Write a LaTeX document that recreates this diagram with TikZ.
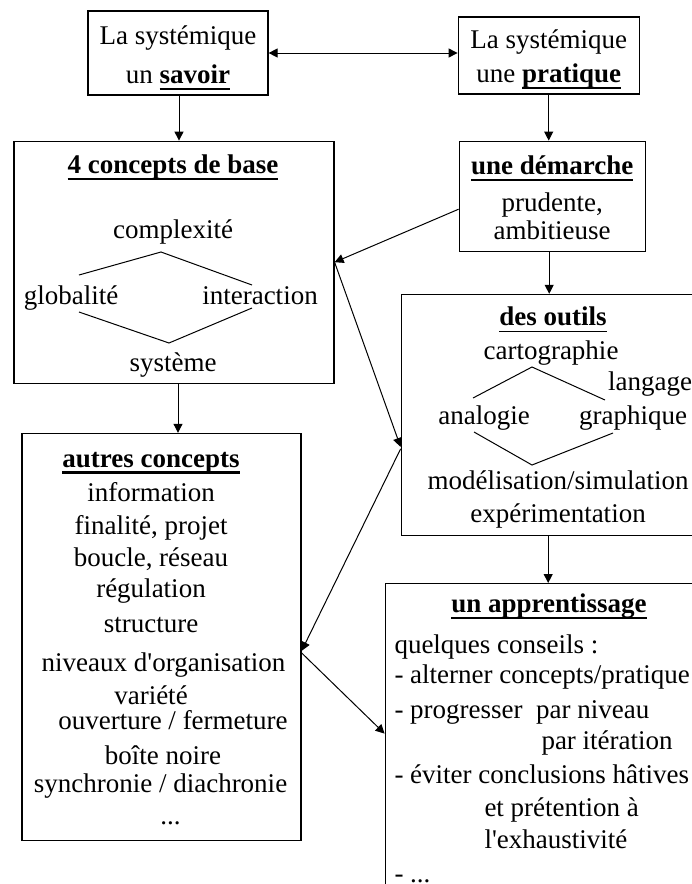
\documentclass[tikz,border=0pt]{standalone}
\usepackage{fontspec}
\setmainfont{Liberation Serif}
\usepackage{tikz}
\usetikzlibrary{positioning,arrows.meta}
\newcommand{\headline}[2][2.5pt]{\setbox0\hbox{\bfseries #2}\rlap{\rule[-6.5pt]{\wd0}{#1}}\box0}
\tikzstyle{block} = [draw, line width=1.2pt, rectangle, align=center, inner sep=0pt]
\tikzstyle{word} = [inner sep=0pt, text height=19pt, text depth=6pt]

\begin{document}
\begin{tikzpicture}[x=1pt, y=-1pt, line width=1pt, >={Triangle[length=9pt,width=9pt]},
		every node/.style={font=\fontsize{27}{33}\selectfont}]
		\useasboundingbox (0,0) rectangle (692,884);
		\clip (0,0) rectangle (692,884);

		\node [block, minimum width=180pt, minimum height=84pt] (savoir) at (178,53)
			{\rule{0pt}{29pt}La systémique\\[6pt]un \headline{savoir}};
		\node [block, minimum width=181pt, minimum height=77pt, right=189pt of savoir, yshift=-2.5pt] (pratique)
			{\rule{0pt}{27pt}La systémique\\[1pt]une \headline{pratique}};
		\node [block, minimum width=320pt, minimum height=242pt, below=45pt of savoir, xshift=-4pt] (base) {};
		\node [block, minimum width=186pt, minimum height=110pt, below=46pt of pratique, xshift=3.5pt] (demarche)
			{\rule{0pt}{22pt}\headline{une démarche}\\[4pt]prudente,\\[-5pt]ambitieuse};
		\node [block, minimum width=316pt, minimum height=241pt, below=42pt of demarche, xshift=7pt] (outils) {};
		\node [block, minimum width=279pt, minimum height=407pt, below=49pt of base, xshift=-12.5pt] (concepts) {};
		\node [block, minimum width=332pt, minimum height=330pt, below=47pt of outils, xshift=-8pt] (apprentissage) {};

		% 4 concepts de base
		\node [word] (baseTitle) at (173,167) {\headline{4 concepts de base}};
		\node [word] (complex) at (173,232) {complexité};
		\node [word] (glob) at (71,298) {globalité};
		\node [word] (inter) at (260,298) {interaction};
		\node [word] (systeme) at (173,365) {système};
		\draw ([shift={(8,-23)}]glob.center) -- ([shift={(-12,20)}]complex.center) -- ([shift={(-8,-13)}]inter.center);
		\draw ([shift={(8,14)}]glob.center) -- ([shift={(-4,-22)}]systeme.center) -- ([shift={(-8,10)}]inter.center);

		% des outils
		\node [word] (outilsTitle) at (553,319) {\headline[1pt]{des outils}};
		\node [word] (carto) at (551,353) {cartographie};
		\node [word] (langage) at (650,384) {langage};
		\node [word] (analog) at (484,418) {analogie};
		\node [word] (graph) at (633,418) {graphique};
		\node [word] (modsim) at (558,483) {modélisation/simulation};
		\node [word] (experim) at (558,516) {expérimentation};
		\draw ([shift={(-11,-20)}]analog.center) -- ([shift={(-19,14)}]carto.center) -- ([shift={(-45,16)}]langage.center);
		\draw ([shift={(-10,14)}]analog.center) -- ([shift={(-26,-18)}]modsim.center) -- ([shift={(-20,15)}]graph.center);

		% autres concepts
		\node [below=15pt of concepts.north, xshift=-10.5pt, align=center, inner sep=0pt] (conceptList)
			{\rule{0pt}{19pt}\headline{autres concepts}\\[1pt]
			information\\
			finalité, projet\\[-1pt]
			boucle, réseau\\[-2pt]
			régulation\\[2pt]
			structure\\[6pt]
			\hspace*{25pt}niveaux d\textquotesingle organisation\\
			variété\\[-8pt]
			\hspace*{44pt}ouverture / fermeture\\[2pt]
			\hspace*{24pt}boîte noire\\[-5pt]
			\hspace*{19pt}synchronie / diachronie\\[-1pt]
			\hspace*{39pt}...};

		% un apprentissage
		\node [word] (apprTitle) at (549,606) {\headline{un apprentissage}};
		\node [anchor=north west, align=left, inner sep=0pt] (conseils) at (394,634)
			{\rule{0pt}{19pt}quelques conseils :\\[-3pt]
			- alterner concepts/pratique\\[2pt]
			- progresser\ \ par niveau\\[-2pt]
			\hspace*{147pt}par itération\\[1pt]
			- éviter conclusions hâtives\\
			\hspace*{90pt}et prétention à\\[-1pt]
			\hspace*{90pt}l\textquotesingle exhaustivité\\[1pt]
			- ...};

		\draw [<->] (savoir.east) -- (savoir.east -| pratique.west);
		\draw [->] ([xshift=1pt]savoir.south) -- ([xshift=1pt]savoir.south |- base.north);
		\draw [->] (pratique.south) -- (pratique.south |- demarche.north);
		\draw [->] ([xshift=4pt]base.south) -- ([xshift=4pt]base.south |- concepts.north);
		\draw [->] ([xshift=-3pt]demarche.south) -- ([xshift=-3pt]demarche.south |- outils.north);
		\draw [->] ([xshift=-11pt]outils.south) -- ([xshift=-11pt]outils.south |- apprentissage.north);
		\draw [->] ([yshift=-13pt]demarche.west) -- (base.east);
		\draw [->] (base.east) -- ([yshift=-32pt]outils.west);
		\draw [->] ([yshift=-34pt]outils.west) -- ([yshift=-14pt]concepts.east);
		\draw [->] ([yshift=-16pt]concepts.east) -- ([yshift=15pt]apprentissage.west);
	\end{tikzpicture}
\end{document}
